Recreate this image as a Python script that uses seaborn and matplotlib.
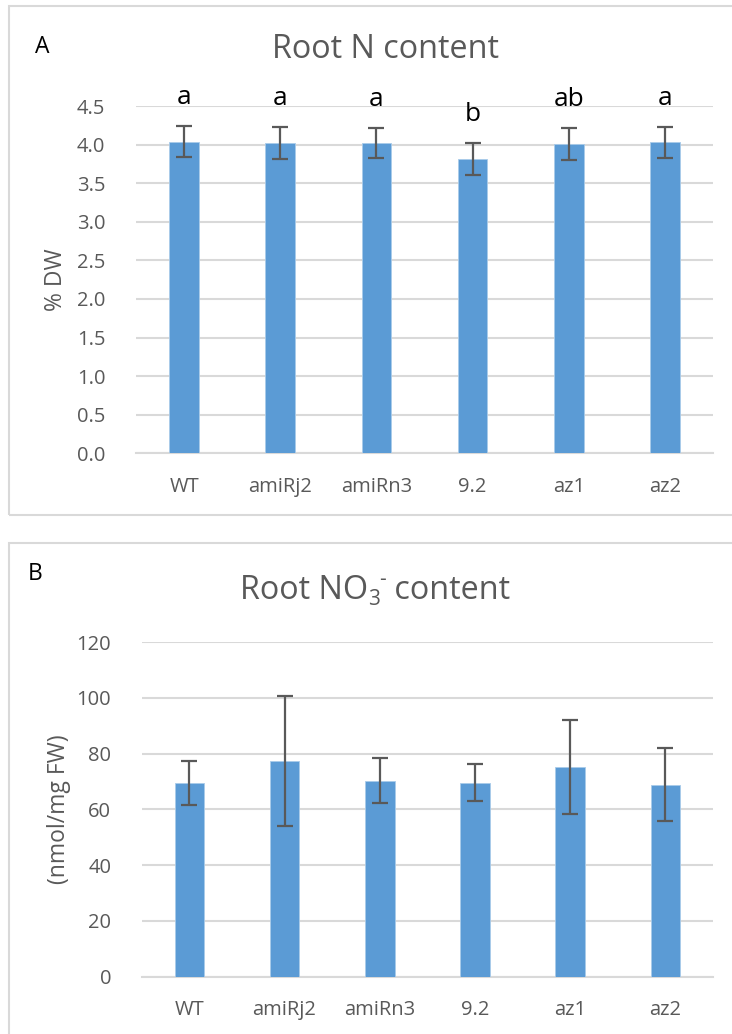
import matplotlib
matplotlib.use("Agg")
import matplotlib.pyplot as plt
from matplotlib.patches import Rectangle
import seaborn as sns
import pandas as pd

# Genotypes shown on both panels
genotypes = ["WT", "amiRj2", "amiRn3", "9.2", "az1", "az2"]

# Panel A: root N content (% DW)
n_mean = [4.04, 4.02, 4.02, 3.81, 4.01, 4.03]
n_err = [0.20, 0.21, 0.20, 0.21, 0.21, 0.20]
n_letters = ["a", "a", "a", "b", "ab", "a"]
n_ticks = [0.0, 0.5, 1.0, 1.5, 2.0, 2.5, 3.0, 3.5, 4.0, 4.5]

# Panel B: root nitrate content (nmol/mg FW)
no3_mean = [69.5, 77.3, 70.2, 69.5, 75.2, 68.9]
no3_err = [7.8, 23.4, 8.1, 6.6, 16.7, 13.0]
no3_ticks = [0, 20, 40, 60, 80, 100, 120]

sns.set_theme(style="white")
plt.rcParams["font.family"] = ["Open Sans", "DejaVu Sans"]

W, H = 732, 1034
fig = plt.figure(figsize=(W / 100, H / 100), dpi=100)
renderer = fig.canvas.get_renderer()

BAR = "#5b9bd5"
GRID = "#d9d9d9"
TXT = "#595959"


def fx(px):
    return px / W


def fy(py):
    return 1 - py / H


def panel(left, right, top, bottom, means, errs, ticks, fmt, ylabel, label_x):
    ax = fig.add_axes([fx(left), fy(bottom), fx(right) - fx(left), fy(top) - fy(bottom)])
    df = pd.DataFrame({"genotype": genotypes, "value": means})
    sns.barplot(data=df, x="genotype", y="value", color=BAR, width=0.31,
                saturation=1, errorbar=None, ax=ax, zorder=3,
                edgecolor="#a9cbea", linewidth=0.6)
    ax.errorbar(range(len(genotypes)), means, yerr=errs, fmt="none",
                ecolor=TXT, elinewidth=1.6, capsize=5.5, capthick=1.6, zorder=4)
    ax.set_xlim(-0.5, len(genotypes) - 0.5)
    ax.set_ylim(ticks[0], ticks[-1])
    ax.set_yticks(ticks)
    ax.set_yticklabels([fmt.format(t) for t in ticks])
    ax.yaxis.grid(True, color=GRID, linewidth=1.5, zorder=0)
    ax.set_axisbelow(True)
    for s in ["top", "right", "left"]:
        ax.spines[s].set_visible(False)
    ax.spines["bottom"].set_color(GRID)
    ax.spines["bottom"].set_linewidth(1.5)
    ax.tick_params(axis="both", length=0, labelsize=14.5, labelcolor=TXT)
    ax.tick_params(axis="y", pad=22)
    ax.tick_params(axis="x", pad=17)
    ax.set_xlabel("")
    ax.set_ylabel(ylabel, fontsize=16.5, color=TXT)
    ax.yaxis.set_label_coords((label_x - left) / (right - left), 0.5)
    return ax


def run_title(center_px, baseline_px, pieces):
    """Draw a title made of (text, size, vertical shift in px) pieces, centred."""
    items = []
    for s, size, dy in pieces:
        t = fig.text(0, 0, s, fontsize=size, color=TXT, ha="left", va="baseline")
        w = t.get_window_extent(renderer).width
        items.append((t, w, dy))
    total = sum(w for _, w, _ in items)
    x = center_px - total / 2
    for t, w, dy in items:
        t.set_position((fx(x), fy(baseline_px - dy)))
        x += w


# Panel frames
fig.patches.append(Rectangle((fx(9), fy(515)), fx(800) - fx(9), fy(6) - fy(515),
                             transform=fig.transFigure, fill=False,
                             edgecolor=GRID, linewidth=1.5))
fig.patches.append(Rectangle((fx(9), fy(1100)), fx(800) - fx(9), fy(543) - fy(1100),
                             transform=fig.transFigure, fill=False,
                             edgecolor=GRID, linewidth=1.5))

axA = panel(136, 713, 106, 453.3, n_mean, n_err, n_ticks, "{:.1f}", "% DW", 68)
for i, (m, e, lab) in enumerate(zip(n_mean, n_err, n_letters)):
    axA.text(i, m + e + 0.37, lab, ha="center", va="center", fontsize=19,
             color="black", clip_on=False)
fig.text(fx(385), fy(50), "Root N content", ha="center", va="center",
         fontsize=23.3, color=TXT)
fig.text(fx(35), fy(53), "A", ha="left", va="baseline", fontsize=16.5, color="black")

axB = panel(141.7, 713, 642, 976.7, no3_mean, no3_err, no3_ticks, "{:d}",
            "(nmol/mg FW)", 71)
run_title(375, 599, [("Root NO", 23.3, 0), ("3", 15, -6), ("-", 15, 14),
                     (" content", 23.3, 0)])
fig.text(fx(28), fy(580), "B", ha="left", va="baseline", fontsize=16.5, color="black")

fig.savefig("out.png", dpi=100, facecolor="white")
